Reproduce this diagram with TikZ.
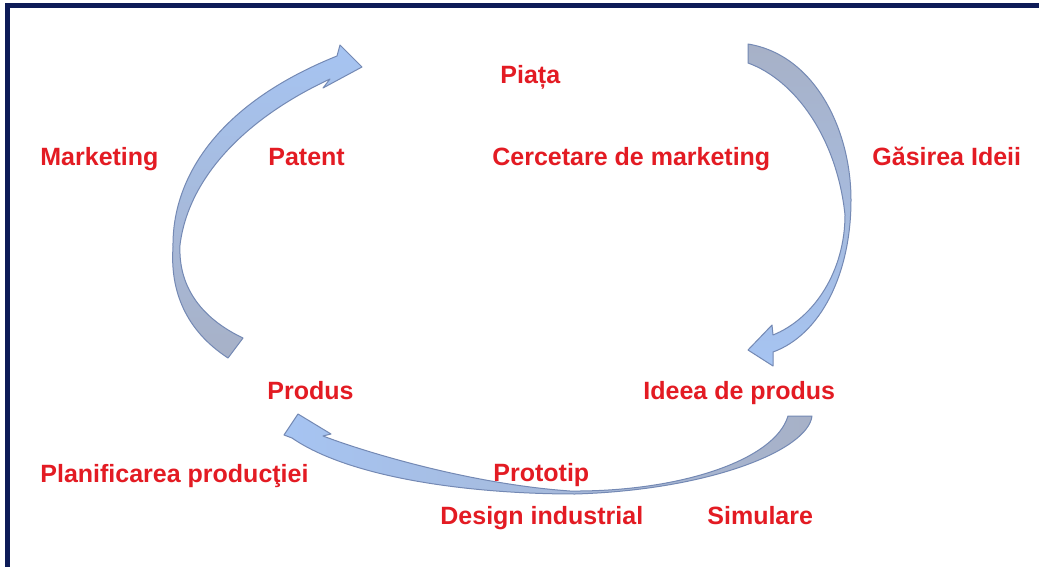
\documentclass[tikz,border=0pt]{standalone}
\usepackage{fontspec}
\setmainfont{Liberation Sans}
\usepackage{tikz}
\usetikzlibrary{positioning}
\definecolor{Frame}{HTML}{0D1B57}
\definecolor{Word}{HTML}{E31B23}
\definecolor{ArrowBlue}{HTML}{A6C4F2}
\definecolor{ArrowGrey}{HTML}{A7B1C7}
\definecolor{ArrowEdge}{HTML}{7489B4}
\tikzset{
  tag/.style={anchor=base west,inner sep=0pt,text=Word,font=\bfseries\fontsize{12.5}{15}\selectfont},
  band/.style={draw=ArrowEdge,line width=0.5pt,line join=round},
  frameline/.style={draw=Frame,line width=2.5pt}
}

\begin{document}
\begin{tikzpicture}[x=0.5pt,y=-0.5pt]
  \useasboundingbox (0,0) rectangle (1039,567);
  \fill[white] (0,0) rectangle (1039,567);
  \draw[frameline] (7,567) -- (7,6) -- (1039,6);

  % curved arrows of the cycle
  \path[band,top color=ArrowBlue,bottom color=ArrowGrey]
    (228,358) .. controls (185,330) and (170,290) .. (173,247)
    .. controls (172,180) and (215,105) .. (337,56)
    -- (340,45) -- (362,67) -- (323,88) -- (330,79)
    .. controls (242,120) and (188,180) .. (180,245)
    .. controls (178,290) and (205,320) .. (243,338) -- cycle;
  \path[band,top color=ArrowGrey,bottom color=ArrowBlue]
    (748,44) .. controls (815,55) and (851,130) .. (851,200)
    .. controls (851,275) and (820,335) .. (773,352)
    -- (773,366) -- (748,350) -- (772,325) -- (773,335)
    .. controls (815,318) and (845,270) .. (845,215)
    .. controls (837,138) and (795,80) .. (748,63) -- cycle;
  \path[band,left color=ArrowBlue,right color=ArrowGrey]
    (812,416) .. controls (808,450) and (710,490) .. (575,494)
    .. controls (470,494) and (350,478) .. (292,438)
    -- (284,435) -- (298,414) -- (331,434) -- (323,436)
    .. controls (365,452) and (470,484) .. (570,491)
    .. controls (680,492) and (775,460) .. (788,416) -- cycle;

  \node[tag] (piata) at (500,84) {Piața};
  \node[tag] (marketing) at (40,166) {Marketing};
  \node[tag] (patent) at (268,166) {Patent};
  \node[tag] (cercetare) at (492,166) {Cercetare de marketing};
  \node[tag] (idee) at (872,166) {Găsirea Ideii};
  \node[tag] (produs) at (267,399) {Produs};
  \node[tag] (ideea) at (643,399) {Ideea de produs};
  \node[tag] (planificare) at (40,482) {Planificarea producţiei};
  \node[tag] (prototip) at (493,481) {Prototip};
  \node[tag] (design) at (440,524) {Design industrial};
  \node[tag] (simulare) at (707,524) {Simulare};
\end{tikzpicture}
\end{document}
